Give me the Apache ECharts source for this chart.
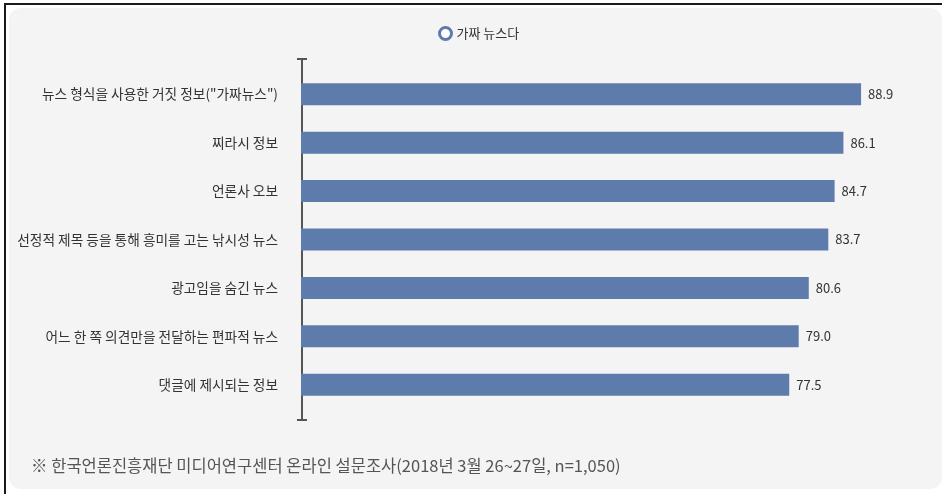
<!DOCTYPE html>
<html>
<head>
<meta charset="utf-8">
<script src="https://cdn.jsdelivr.net/npm/echarts@6/dist/echarts.min.js"></script>
<style>
  html, body { margin: 0; padding: 0; background: #fff; }
  #frame { position: absolute; left: 4px; top: 3px; width: 938px; height: 491px;
           border-left: 2px solid #1a1a1a; border-top: 2px solid #1a1a1a; box-sizing: border-box; }
  #panel { position: absolute; left: 9px; top: 8px; right: 0; height: 481px;
           background: #f4f4f4; border-radius: 12px; }
  #chart { position: absolute; left: 0; top: 0; width: 942px; height: 494px; }
</style>
</head>
<body>
<div id="frame"></div>
<div id="panel"></div>
<div id="chart"></div>
<script>
// 가짜 뉴스로 인식하는 정보 유형 (%)
const categories = [
  '뉴스 형식을 사용한 거짓 정보("가짜뉴스")',
  '찌라시 정보',
  '언론사 오보',
  '선정적 제목 등을 통해 흥미를 고는 낚시성 뉴스',
  '광고임을 숨긴 뉴스',
  '어느 한 쪽 의견만을 전달하는 편파적 뉴스',
  '댓글에 제시되는 정보'
];
const fakeNewsValues = [88.9, 86.1, 84.7, 83.7, 80.6, 79.0, 77.5];
const seriesName = '가짜 뉴스다';
const sourceNote = '※ 한국언론진흥재단 미디어연구센터 온라인 설문조사(2018년 3월 26~27일, n=1,050)';

const barColor = '#5e7cab';
const font = '"Noto Sans CJK KR", "Noto Sans", sans-serif';

const chart = echarts.init(document.getElementById('chart'), null, { renderer: 'canvas' });
chart.setOption({
  backgroundColor: 'transparent',
  textStyle: { fontFamily: font },
  title: {
    text: sourceNote,
    left: 26,
    top: 452,
    textStyle: { fontSize: 16.5, fontWeight: 'normal', color: '#555', fontFamily: font }
  },
  legend: {
    data: [seriesName],
    left: 433,
    top: 21,
    icon: 'circle',
    itemWidth: 12,
    itemHeight: 12,
    itemGap: 6,
    itemStyle: { color: '#fff', borderColor: barColor, borderWidth: 3 },
    textStyle: { fontSize: 13, color: '#333', fontFamily: font }
  },
  grid: [
    // frame for the vertical axis line with end caps
    { left: 302, right: 11, top: 59, bottom: 74 },
    // plotting area for the bars
    { left: 301, right: 11, top: 70, bottom: 85 }
  ],
  xAxis: [
    { gridIndex: 0, type: 'value', min: 0, max: 100, show: false },
    { gridIndex: 1, type: 'value', min: 0, max: 100, show: false }
  ],
  yAxis: [
    {
      gridIndex: 0, type: 'value', min: 0, max: 1,
      axisLine: {
        show: true,
        symbol: ['rect', 'rect'],
        symbolSize: [10, 2],
        lineStyle: { color: '#555', width: 2 }
      },
      axisTick: { show: false },
      axisLabel: { show: false },
      splitLine: { show: false }
    },
    {
      gridIndex: 1, type: 'category', inverse: true, data: categories,
      axisLine: { show: false },
      axisTick: { show: false },
      axisLabel: { margin: 23, fontSize: 13.7, color: '#333', fontFamily: font }
    }
  ],
  series: [
    {
      name: seriesName,
      type: 'bar',
      xAxisIndex: 1,
      yAxisIndex: 1,
      data: fakeNewsValues,
      barWidth: 22,
      itemStyle: { color: barColor },
      label: {
        show: true,
        position: 'right',
        distance: 7,
        fontSize: 13,
        color: '#333',
        fontFamily: font,
        formatter: p => p.value.toFixed(1)
      },
      animation: false
    }
  ],
  animation: false
});
</script>
</body>
</html>
